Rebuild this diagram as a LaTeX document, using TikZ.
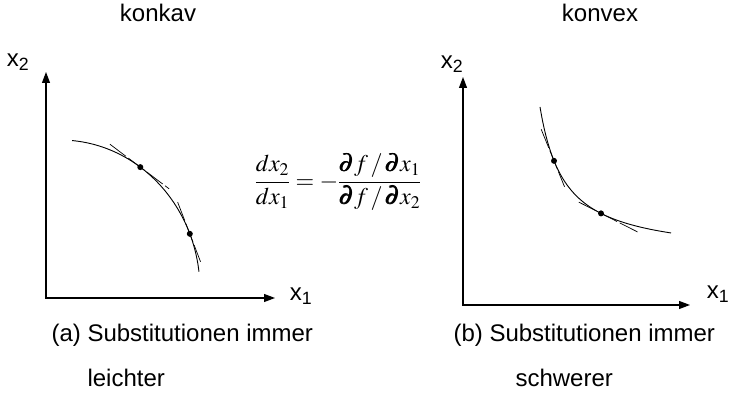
\documentclass[tikz,border=0pt]{standalone}
\usepackage{amsmath,amssymb}
\usepackage{mathptmx}
\usepackage[no-math]{fontspec}
\setmainfont{Liberation Sans}
\usetikzlibrary{arrows.meta,calc}

\begin{document}
\begin{tikzpicture}[x=1pt, y=1pt, >={Triangle[length=11pt,width=8pt]},
  font=\fontsize{24}{28}\selectfont,
  axis/.style={<->, line width=1.1pt},
  curve/.style={line width=0.9pt},
  tang/.style={line width=0.7pt, dash pattern=on 20pt off 3pt},
  dot/.style={circle, fill, inner sep=0pt, minimum size=6pt}]
  \useasboundingbox (0,0) rectangle (738,395);
  % (a) konkav
  \coordinate (ya) at (46,323);
  \coordinate (xa) at (275,97);
  \draw[axis] (ya) |- (xa);
  \node (x2a) at (18,333) {x\textsubscript{2}};
  \node (x1a) at (301,99) {x\textsubscript{1}};
  \node (ka) at (158,382) {konkav};
  \coordinate (ca) at (60,105);
  \draw[curve] ($(ca)+(85:140 and 150)$) arc[start angle=85, end angle=7, x radius=140, y radius=150];
  \node[dot] (d1) at ($(ca)+(55:140 and 150)$) {};
  \node[dot] (d2) at ($(ca)+(22:140 and 150)$) {};
  \draw[tang] ($(d1)+(143:38)$) -- ($(d1)+(-37:36)$);
  \draw[tang] ($(d2)+(111:34)$) -- ($(d2)+(-69:30)$);
  % (b) konvex
  \coordinate (yb) at (463,318);
  \coordinate (xb) at (690,90);
  \draw[axis] (yb) |- (xb);
  \node (x2b) at (452,331) {x\textsubscript{2}};
  \node (x1b) at (718,101) {x\textsubscript{1}};
  \node (kb) at (600,382) {konvex};
  \draw[curve] plot[domain=540:671, samples=60, smooth] (\x, {138+3750/(\x-515)});
  \node[dot] (d3) at (554,{138+3750/39}) {};
  \node[dot] (d4) at (601,{138+3750/86}) {};
  \draw[tang] ($(d3)+(112.1:34)$) -- ($(d3)+(-67.9:28)$);
  \draw[tang] ($(d4)+(153.1:25)$) -- ($(d4)+(-26.9:42)$);
  % Grenzrate der Substitution
  \node (rate) at (338,213)
    {$\dfrac{dx_2}{dx_1}=-\dfrac{\pmb{\partial} f\,/\,\pmb{\partial} x_1}{\pmb{\partial} f\,/\,\pmb{\partial} x_2}$};
  % captions
  \node[anchor=west] (capa) at (48,60) {(a) Substitutionen immer};
  \node[anchor=west] (capa2) at (84,17) {leichter};
  \node[anchor=west] (capb) at (450,60) {(b) Substitutionen immer};
  \node[anchor=west] (capb2) at (512,17) {schwerer};
\end{tikzpicture}
\end{document}
